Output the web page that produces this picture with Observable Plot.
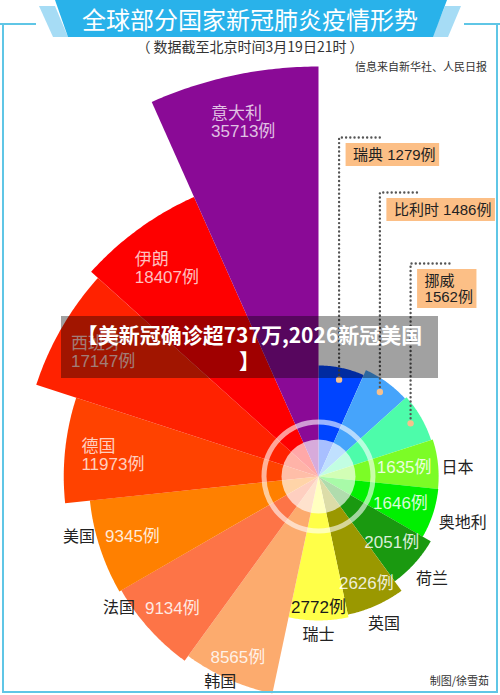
<!DOCTYPE html>
<html>
<head>
<meta charset="utf-8">
<script src="https://cdn.jsdelivr.net/npm/d3@7"></script>
<script src="https://cdn.jsdelivr.net/npm/@observablehq/plot@0.6"></script>
<style>
  html, body { margin:0; padding:0; background:#fff; }
  #wrap { position:relative; width:500px; height:695px; overflow:hidden; background:#fff; }
  #chart, #deco { position:absolute; left:0; top:0; }
  #deco { pointer-events:none; }
  #mark { position:absolute; left:61px; top:316px; width:377px; height:62px; background:rgba(0,0,0,0.37);
          color:#fff; font-family:"Noto Sans CJK SC", sans-serif; font-weight:700; font-size:21px;
          line-height:26px; text-align:center; padding-top:5px; box-sizing:border-box; white-space:nowrap; }
</style>
</head>
<body>
<div id="wrap">
  <div id="chart"></div>
  <svg id="deco" width="500" height="695" xmlns="http://www.w3.org/2000/svg">
    <g stroke="#5fc6e6" stroke-width="2" fill="none">
      <polyline points="0,24 36,24"/>
      <polyline points="464,24 500,24"/>
      <polyline points="3,24 3,692 497,692 497,24"/>
    </g>
    <polygon points="39,6 55,6 68,37 53,37" fill="#a6dcf5"/>
    <polygon points="445,6 461,6 448,37 432,37" fill="#a6dcf5"/>
    <polygon points="55,0 447,0 433,37 68,37" fill="#29b2ea"/>
    <text x="250" y="29" text-anchor="middle" font-size="24" fill="#fff" font-family="Noto Sans CJK SC, sans-serif">全球部分国家新冠肺炎疫情形势</text>
    <text x="250" y="52" text-anchor="middle" font-size="14" fill="#333" font-family="Noto Sans CJK SC, sans-serif">（ 数据截至北京时间3月19日21时 ）</text>
    <text x="487" y="71" text-anchor="end" font-size="11" fill="#333" font-family="Noto Sans CJK SC, sans-serif">信息来自新华社、人民日报</text>
    <text x="489" y="685" text-anchor="end" font-size="11" fill="#333" font-family="Noto Sans CJK SC, sans-serif">制图/徐雪茹</text>
  </svg>
  <div id="mark">【美新冠确诊超737万,2026新冠美国<br>】</div>
</div>
<script>
// ---- data ----
const countries = ["瑞典","比利时","挪威","日本","奥地利","荷兰","英国","瑞士","韩国","法国","美国","德国","西班牙","伊朗","意大利"];
const cases = [1279,1486,1562,1635,1646,2051,2626,2772,8565,9134,9345,11973,17147,18407,35713];
const unit = "例";
// ---- styles ----
const palette = ["#0044ff","#46a4fb","#4dfcaa","#7cfc26","#00f000","#1a9910","#9a9800","#ffff48","#fcab6e","#fd7447","#ff8000","#ff4200","#ff2200","#fe0000","#8a0a96"];

const W = 500, H = 695;
const CX = 318, CY = 476;
const N = countries.length, step = 360 / N;
const toRad = a => a * Math.PI / 180;

let R;
try {
  const rs = Plot.scale({r: {type: "pow", exponent: 0.5, domain: [d3.min(cases), d3.max(cases)], range: [111, 410]}});
  R = v => rs.apply(v);
  if (!isFinite(R(5000))) throw 0;
} catch (e) {
  const s = d3.scalePow().exponent(0.5).domain([d3.min(cases), d3.max(cases)]).range([111, 410]);
  R = v => s(v);
}
const polar = (a, r) => ({x: CX + r * Math.sin(toRad(a)), y: CY - r * Math.cos(toRad(a))});

const rows = countries.map((name, i) => ({name, value: cases[i], i, a0: i * step, a1: (i + 1) * step, mid: (i + 0.5) * step, r: R(cases[i])}));

const sector = rows.flatMap(d => {
  const pts = [{name: d.name, ...polar(0, 0)}];
  for (let k = 0; k <= 48; k++) pts.push({name: d.name, ...polar(d.a0 + (d.a1 - d.a0) * k / 48, d.r)});
  return pts;
});

const FONT = "'Liberation Sans', 'Noto Sans CJK SC', sans-serif";
const ctx = document.createElement("canvas").getContext("2d");
const tw = (s, size) => { ctx.font = `${size}px ${FONT}`; return Math.max(...s.split("\n").map(l => ctx.measureText(l).width)); };

// callouts for the three smallest
const calloutY = [137, 192, 263];
const callouts = rows.filter(d => d.i < 3).map((d, j) => {
  const p = polar(d.mid, d.r - 12);
  const bx1 = p.x + 7;
  let text = `${d.name} ${d.value}${unit}`;
  if (bx1 + tw(text, 15) + 11 > W) text = `${d.name}\n${d.value}${unit}`;
  const lines = text.split("\n").length;
  const w = tw(text, 15);
  const top = calloutY[j];
  const by1 = top + 6, bh = lines * 16 + 7;
  return {...d, px: p.x, py: p.y, top, text, bx1, bx2: bx1 + w + 11, by1, by2: by1 + bh, tx: bx1 + 7, ty: by1 + bh / 2};
});
const calloutLines = callouts.flatMap(c => [
  {name: c.name, x: c.px, y: c.py - 5},
  {name: c.name, x: c.px, y: c.top},
  {name: c.name, x: c.px + 41, y: c.top}
]);

// value + name labels
const side = rows.filter(d => d.i >= 3 && d.i <= 10).map(d => {
  const s = Math.sin(toRad(d.mid)), c = Math.cos(toRad(d.mid));
  const vt = `${d.value}${unit}`;
  const hv = tw(vt, 17) / 2, hn = tw(d.name, 16) / 2;
  const off = 6 + Math.abs(s) * hv + Math.abs(c) * 7;
  const p = polar(d.mid, d.r - off);
  const dark = d3.lab(palette[d.i]).l > 92;
  let nx, ny;
  if (c < -0.3 && s > -0.5) {
    // below the arc, outward along the slice
    const q = polar(d.mid, d.r + 6 + Math.abs(s) * hn + Math.abs(c) * 8);
    nx = q.x; ny = Math.min(q.y, H - 14);
  } else {
    // beside the value, on the same line
    nx = p.x + Math.sign(s) * (hv + hn + 10); ny = p.y;
  }
  return {...d, vt, dark, vx: p.x, vy: p.y, nx, ny};
});

// inside labels for the largest
const inside = rows.filter(d => d.i >= 11).map(d => {
  const p = polar(d.mid, d.r - 48);
  return {...d, t: `${d.name}\n${d.value}${unit}`, x: p.x - tw(`${d.value}${unit}`, 17) / 2, y: p.y};
});

const center = [{x: CX, y: CY}];

const chart = Plot.plot({
  width: W, height: H, margin: 0,
  x: {domain: [0, W], range: [0, W], axis: null},
  y: {domain: [0, H], range: [0, H], axis: null},
  color: {domain: countries, range: palette},
  style: {background: "transparent", overflow: "visible"},
  marks: [
    Plot.line(sector, {x: "x", y: "y", z: "name", fill: "name", stroke: "none"}),
    Plot.dot(center, {x: "x", y: "y", r: 37, fill: "white", fillOpacity: 0.66, stroke: "none"}),
    Plot.dot(center, {x: "x", y: "y", r: 54.5, fill: "none", stroke: "white", strokeOpacity: 0.6, strokeWidth: 5}),
    Plot.line(calloutLines, {x: "x", y: "y", z: "name", stroke: "#555", strokeWidth: 2.4, strokeDasharray: "0.01 4.2", strokeLinecap: "round"}),
    Plot.dot(callouts, {x: "px", y: "py", r: 3.2, fill: "#f6c08c", stroke: "none"}),
    Plot.rect(callouts, {x1: "bx1", x2: "bx2", y1: "by1", y2: "by2", fill: "#fcbf86"}),
    Plot.text(callouts, {x: "tx", y: "ty", text: "text", textAnchor: "start", lineAnchor: "middle", lineHeight: 1.07, fontSize: 15, fill: "#222", fontFamily: FONT}),
    Plot.text(inside, {x: "x", y: "y", text: "t", textAnchor: "start", lineAnchor: "middle", lineHeight: 1.06, fontSize: 17, fill: "white", fillOpacity: 0.75, fontFamily: FONT}),
    Plot.text(side.filter(d => !d.dark), {x: "vx", y: "vy", text: "vt", fontSize: 17, fill: "white", fillOpacity: 0.85, fontFamily: FONT}),
    Plot.text(side.filter(d => d.dark), {x: "vx", y: "vy", text: "vt", fontSize: 17, fill: "#1a1a1a", fontFamily: FONT}),
    Plot.text(side, {x: "nx", y: "ny", text: "name", fontSize: 16, fill: "#222", fontFamily: FONT})
  ]
});
document.getElementById("chart").appendChild(chart);
</script>
</body>
</html>
